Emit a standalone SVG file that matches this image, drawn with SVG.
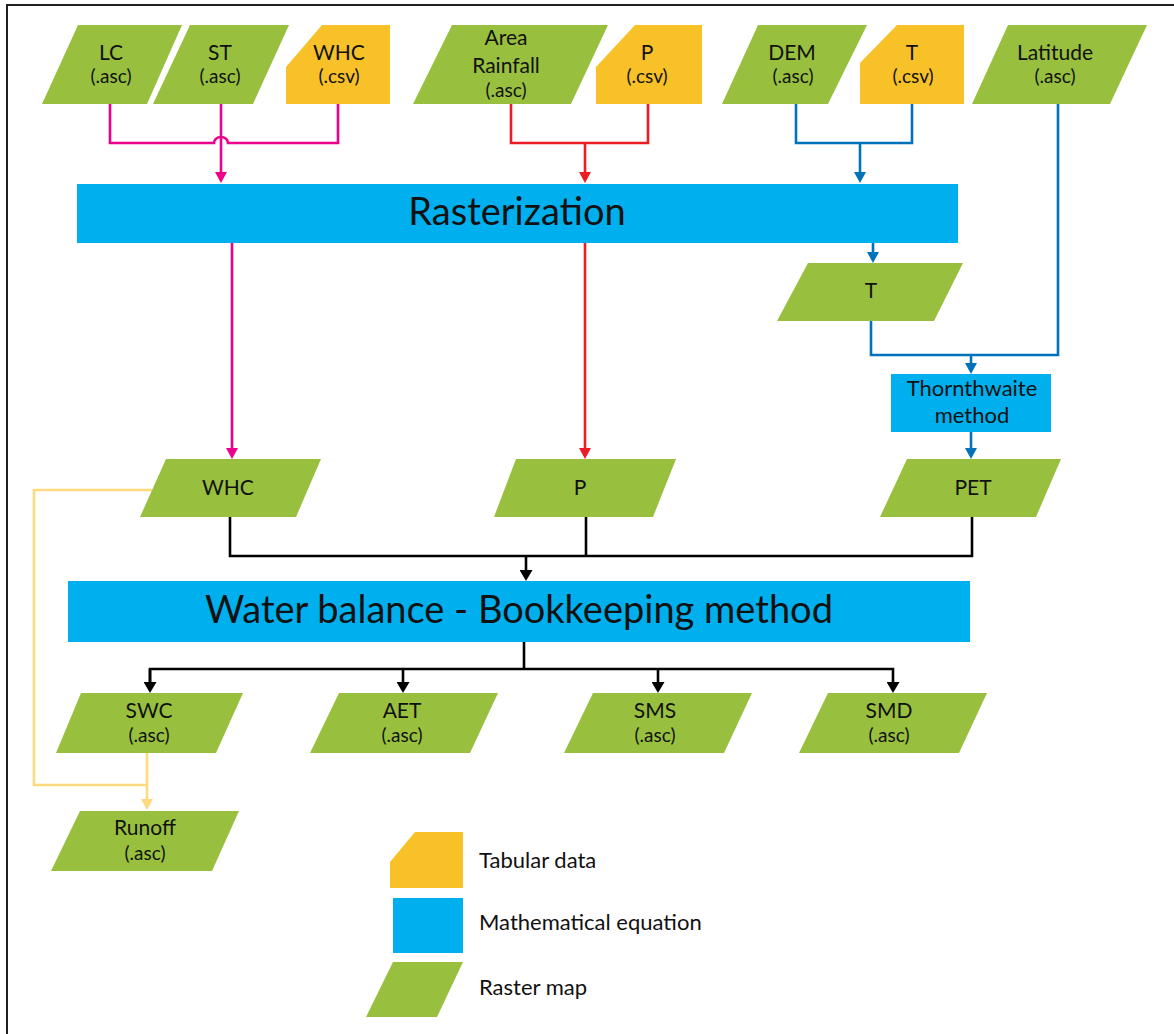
<svg xmlns="http://www.w3.org/2000/svg" width="1174" height="1034" viewBox="0 0 1174 1034">
<style>
.g{fill:#98C03E}
.o{fill:#F7C127}
.b{fill:#00B0EE}
text{font-family:Lato,"Liberation Sans",sans-serif;fill:#111;text-anchor:middle}
.l{font-size:21px}
.t{font-size:22px}
.s{font-size:19px}
.big{font-size:38px}
.lg{font-size:22px;text-anchor:start}
.c{fill:none;stroke-width:2.6}
.mg{stroke:#EC008C}
.rd{stroke:#ED1C24}
.bl{stroke:#0072BC}
.bk{stroke:#000}
.yl{stroke:#FFD97E}
</style>
<defs>
<marker id="am" markerUnits="userSpaceOnUse" viewBox="0 0 11 12" refX="8" refY="6" markerWidth="11" markerHeight="12" orient="auto"><path d="M0,0L11,6L0,12z" fill="#EC008C"/></marker>
<marker id="ar" markerUnits="userSpaceOnUse" viewBox="0 0 11 12" refX="8" refY="6" markerWidth="11" markerHeight="12" orient="auto"><path d="M0,0L11,6L0,12z" fill="#ED1C24"/></marker>
<marker id="ab" markerUnits="userSpaceOnUse" viewBox="0 0 11 12" refX="8" refY="6" markerWidth="11" markerHeight="12" orient="auto"><path d="M0,0L11,6L0,12z" fill="#0072BC"/></marker>
<marker id="ak" markerUnits="userSpaceOnUse" viewBox="0 0 11 13" refX="8" refY="6.5" markerWidth="11" markerHeight="13" orient="auto"><path d="M0,0L11,6.5L0,13z" fill="#000"/></marker>
<marker id="ay" markerUnits="userSpaceOnUse" viewBox="0 0 11 12" refX="8" refY="6" markerWidth="11" markerHeight="12" orient="auto"><path d="M0,0L11,6L0,12z" fill="#FFD97E"/></marker>
</defs>
<rect width="1174" height="1034" fill="#fff"/>
<path d="M7,1034V5H1174" fill="none" stroke="#231F20" stroke-width="2"/>

<g id="connectors">
<path class="c mg" d="M110,104V143H214A7,6 0 0 1 228,143H338V104"/>
<path class="c mg" d="M221,104V180" marker-end="url(#am)"/>
<path class="c rd" d="M511,104V143H648V104"/>
<path class="c rd" d="M585,143V180" marker-end="url(#ar)"/>
<path class="c bl" d="M796,104V143H912V104"/>
<path class="c bl" d="M860,143V180" marker-end="url(#ab)"/>
<path class="c mg" d="M232,243V456" marker-end="url(#am)"/>
<path class="c rd" d="M585,243V456" marker-end="url(#ar)"/>
<path class="c bl" d="M873,243V260" marker-end="url(#ab)"/>
<path class="c bl" d="M871,321V355H1058V104"/>
<path class="c bl" d="M971,355V371" marker-end="url(#ab)"/>
<path class="c bl" d="M971,432V456" marker-end="url(#ab)"/>
<path class="c bk" d="M230,517V556H972V517"/>
<path class="c bk" d="M586,517V556"/>
<path class="c bk" d="M526,556V578" marker-end="url(#ak)"/>
<path class="c bk" d="M524,642V669"/>
<path class="c bk" d="M150,690V669H893V690" marker-end="url(#ak)"/>
<path class="c bk" d="M150,669V690" marker-end="url(#ak)"/>
<path class="c bk" d="M403,669V690" marker-end="url(#ak)"/>
<path class="c bk" d="M658,669V690" marker-end="url(#ak)"/>
<path class="c yl" d="M152,490H34V785H147"/>
<path class="c yl" d="M147,753V807" marker-end="url(#ay)"/>
</g>

<g id="n-lc"><path class="g" d="M78,25H182L147,104H42Z"/><text class="l" x="111" y="60">LC</text><text class="s" x="111" y="83">(.asc)</text></g>
<g id="n-st"><path class="g" d="M190,25H289L253,104H153Z"/><text class="l" x="220" y="60">ST</text><text class="s" x="220" y="83">(.asc)</text></g>
<g id="n-whc-csv"><path class="o" d="M286,67L322,25H390V104H286Z"/><text class="l" x="339" y="60">WHC</text><text class="s" x="339" y="83">(.csv)</text></g>
<g id="n-area"><path class="g" d="M452,25H608L571,104H413Z"/><text class="l" x="506" y="45">Area</text><text class="l" x="506" y="73">Rainfall</text><text class="s" x="506" y="97">(.asc)</text></g>
<g id="n-p-csv"><path class="o" d="M596,67L635,25H702V104H596Z"/><text class="l" x="647" y="60">P</text><text class="s" x="647" y="83">(.csv)</text></g>
<g id="n-dem"><path class="g" d="M758,25H867L828,104H722Z"/><text class="l" x="792" y="60">DEM</text><text class="s" x="793" y="83">(.asc)</text></g>
<g id="n-t-csv"><path class="o" d="M860,63L897,25H964V104H860Z"/><text class="l" x="912" y="60">T</text><text class="s" x="913" y="83">(.csv)</text></g>
<g id="n-lat"><path class="g" d="M1008,25H1147L1110,104H972Z"/><text class="l" x="1055" y="60">Latitude</text><text class="s" x="1055" y="83">(.asc)</text></g>

<g id="n-raster"><rect class="b" x="77" y="184" width="881" height="59"/><text class="big" x="517" y="225">Rasterization</text></g>
<g id="n-t"><path class="g" d="M808,263H963L934,321H777Z"/><text class="l" x="871" y="298">T</text></g>
<g id="n-thorn"><rect class="b" x="891" y="374" width="160" height="58"/><text class="t" x="972" y="396">Thornthwaite</text><text class="t" x="972" y="423">method</text></g>
<g id="n-whc"><path class="g" d="M166,459H321L296,517H140Z"/><text class="l" x="228" y="495">WHC</text></g>
<g id="n-p"><path class="g" d="M516,459H676L653,517H494Z"/><text class="l" x="580" y="495">P</text></g>
<g id="n-pet"><path class="g" d="M907,459H1061L1036,517H880Z"/><text class="l" x="973" y="495">PET</text></g>
<g id="n-wb"><rect class="b" x="68" y="581" width="902" height="61"/><text class="big" x="519" y="623">Water balance - Bookkeeping method</text></g>
<g id="n-swc"><path class="g" d="M81,693H243L216,753H56Z"/><text class="l" x="149" y="718">SWC</text><text class="s" x="149" y="742">(.asc)</text></g>
<g id="n-aet"><path class="g" d="M339,693H498L470,753H310Z"/><text class="l" x="402" y="718">AET</text><text class="s" x="402" y="742">(.asc)</text></g>
<g id="n-sms"><path class="g" d="M593,693H752L724,753H564Z"/><text class="l" x="655" y="718">SMS</text><text class="s" x="655" y="742">(.asc)</text></g>
<g id="n-smd"><path class="g" d="M828,693H987L959,753H799Z"/><text class="l" x="889" y="718">SMD</text><text class="s" x="889" y="742">(.asc)</text></g>
<g id="n-runoff"><path class="g" d="M80,811H239L212,871H51Z"/><text class="l" x="145" y="835">Runoff</text><text class="s" x="145" y="860">(.asc)</text></g>

<g id="legend">
<path class="o" d="M390,862L415,832H463V888H390Z"/><text class="lg" x="479" y="868">Tabular data</text>
<rect class="b" x="393" y="898" width="70" height="55"/><text class="lg" x="479" y="930">Mathematical equation</text>
<path class="g" d="M393,962H463L437,1017H366Z"/><text class="lg" x="479" y="995">Raster map</text>
</g>
</svg>
